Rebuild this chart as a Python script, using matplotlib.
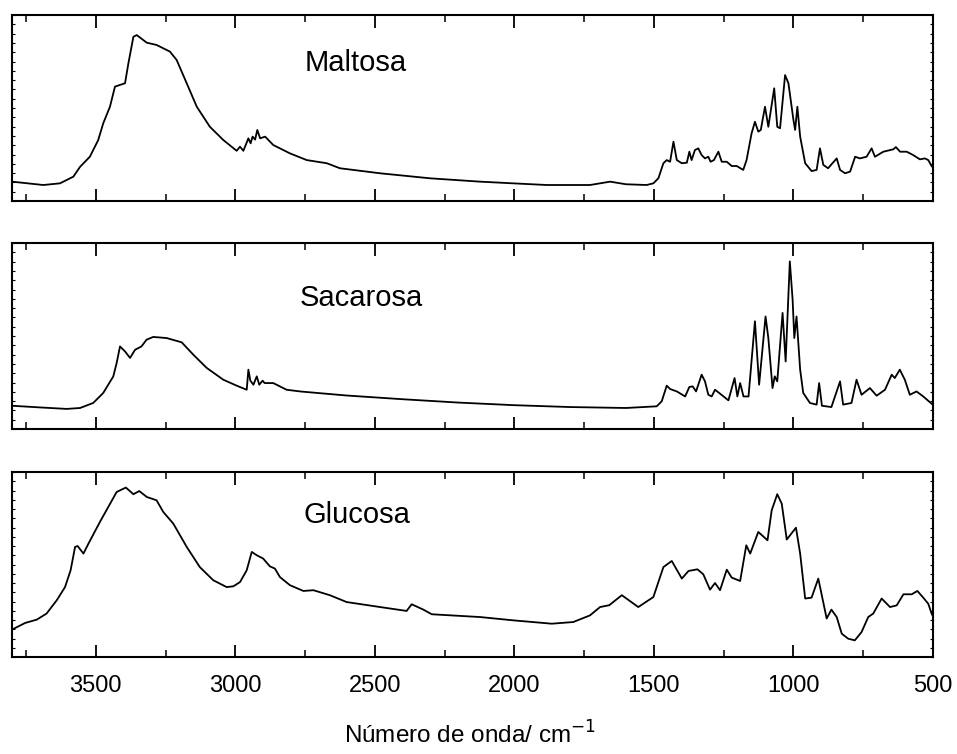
import numpy as np
import matplotlib
matplotlib.use("Agg")
import matplotlib.pyplot as plt
from matplotlib.ticker import MultipleLocator

plt.rcParams['font.family'] = ['Liberation Sans', 'DejaVu Sans']

# FTIR spectra (wavenumber in cm^-1, relative absorbance)
maltosa_wn = [3800, 3688, 3628, 3580, 3556, 3521, 3491, 3473, 3449, 3431, 3395, 3383, 3365, 3353,
              3317, 3282, 3234, 3210, 3174, 3138, 3091, 3043, 2995, 2983, 2971, 2953, 2945, 2938,
              2929, 2921, 2911, 2893, 2864, 2804, 2744, 2672, 2625, 2481, 2302, 2123, 2005, 1884,
              1729, 1657, 1600, 1526, 1502, 1484, 1466, 1454, 1442, 1430, 1418, 1400, 1382, 1373,
              1365, 1353, 1341, 1329, 1317, 1305, 1297, 1285, 1269, 1257, 1239, 1221, 1203, 1180,
              1168, 1150, 1138, 1126, 1117, 1102, 1090, 1069, 1058, 1048, 1030, 1018, 1000, 994,
              986, 976, 958, 935, 917, 905, 893, 876, 845, 833, 815, 797, 779, 762, 738, 720, 708,
              678, 642, 633, 618, 594, 571, 547, 529, 517, 505, 500]
maltosa_abs = [0.104, 0.086, 0.095, 0.131, 0.184, 0.238, 0.328, 0.418, 0.507, 0.615, 0.633, 0.740,
               0.883, 0.892, 0.851, 0.839, 0.803, 0.758, 0.633, 0.507, 0.399, 0.328, 0.270, 0.292,
               0.270, 0.337, 0.310, 0.346, 0.330, 0.382, 0.337, 0.346, 0.301, 0.256, 0.220, 0.203,
               0.176, 0.149, 0.122, 0.104, 0.095, 0.086, 0.086, 0.104, 0.090, 0.086, 0.095, 0.122,
               0.203, 0.220, 0.211, 0.319, 0.220, 0.203, 0.206, 0.265, 0.220, 0.274, 0.283, 0.247,
               0.229, 0.238, 0.211, 0.220, 0.265, 0.211, 0.211, 0.188, 0.188, 0.167, 0.220, 0.364,
               0.426, 0.373, 0.382, 0.507, 0.399, 0.606, 0.399, 0.391, 0.677, 0.633, 0.435, 0.382,
               0.507, 0.346, 0.203, 0.161, 0.167, 0.283, 0.194, 0.176, 0.229, 0.167, 0.149, 0.158,
               0.238, 0.229, 0.238, 0.283, 0.238, 0.265, 0.278, 0.290, 0.265, 0.265, 0.247, 0.224,
               0.229, 0.220, 0.188, 0.180]

sacarosa_wn = [3800, 3700, 3604, 3556, 3509, 3473, 3437, 3425, 3413, 3395, 3377, 3359, 3336, 3318,
               3294, 3246, 3192, 3150, 3102, 3043, 2995, 2959, 2953, 2946, 2935, 2923, 2914, 2902,
               2895, 2864, 2816, 2768, 2708, 2600, 2400, 2200, 2000, 1800, 1600, 1490, 1472, 1454,
               1442, 1418, 1388, 1373, 1361, 1349, 1329, 1317, 1305, 1293, 1281, 1263, 1233, 1211,
               1201, 1191, 1179, 1161, 1138, 1123, 1100, 1090, 1075, 1067, 1058, 1039, 1028, 1013,
               1003, 997, 989, 976, 965, 941, 917, 908, 898, 864, 833, 822, 792, 774, 756, 726,
               702, 672, 648, 637, 619, 601, 583, 559, 535, 505, 500]
sacarosa_abs = [0.125, 0.116, 0.108, 0.113, 0.140, 0.194, 0.283, 0.355, 0.444, 0.417, 0.382, 0.426,
                0.444, 0.480, 0.495, 0.489, 0.466, 0.399, 0.328, 0.265, 0.233, 0.211, 0.319, 0.260,
                0.238, 0.283, 0.238, 0.260, 0.247, 0.247, 0.211, 0.202, 0.194, 0.180, 0.160, 0.142,
                0.128, 0.118, 0.113, 0.122, 0.149, 0.233, 0.215, 0.202, 0.175, 0.226, 0.229, 0.202,
                0.292, 0.256, 0.184, 0.175, 0.211, 0.190, 0.154, 0.274, 0.175, 0.247, 0.175, 0.175,
                0.579, 0.238, 0.605, 0.489, 0.220, 0.283, 0.256, 0.624, 0.363, 0.901, 0.695, 0.489,
                0.605, 0.319, 0.194, 0.140, 0.131, 0.247, 0.125, 0.118, 0.256, 0.131, 0.140, 0.265,
                0.184, 0.220, 0.179, 0.211, 0.292, 0.274, 0.319, 0.265, 0.184, 0.202, 0.175, 0.136,
                0.130]

glucosa_wn = [3800, 3753, 3711, 3676, 3640, 3610, 3590, 3574, 3565, 3544, 3526, 3485, 3455, 3425,
              3392, 3365, 3344, 3317, 3282, 3258, 3222, 3174, 3127, 3079, 3031, 3007, 2983, 2959,
              2941, 2923, 2900, 2876, 2858, 2840, 2804, 2756, 2720, 2661, 2601, 2481, 2386, 2368,
              2326, 2296, 2123, 2003, 1866, 1789, 1729, 1693, 1660, 1615, 1556, 1502, 1466, 1436,
              1400, 1376, 1344, 1323, 1299, 1281, 1263, 1239, 1221, 1191, 1169, 1155, 1126, 1093,
              1078, 1058, 1042, 1024, 991, 976, 958, 935, 911, 881, 864, 845, 827, 804, 780, 756,
              732, 714, 684, 654, 630, 606, 576, 556, 535, 517, 505, 500]
glucosa_abs = [0.148, 0.184, 0.202, 0.235, 0.306, 0.378, 0.469, 0.595, 0.600, 0.559, 0.613, 0.730,
               0.811, 0.892, 0.916, 0.880, 0.897, 0.865, 0.847, 0.784, 0.721, 0.595, 0.486, 0.415,
               0.378, 0.382, 0.405, 0.469, 0.568, 0.550, 0.532, 0.490, 0.478, 0.432, 0.388, 0.357,
               0.361, 0.334, 0.297, 0.270, 0.249, 0.285, 0.256, 0.231, 0.216, 0.198, 0.180, 0.189,
               0.225, 0.270, 0.280, 0.334, 0.270, 0.324, 0.486, 0.519, 0.424, 0.465, 0.474, 0.447,
               0.364, 0.400, 0.361, 0.472, 0.429, 0.411, 0.604, 0.559, 0.676, 0.631, 0.793, 0.880,
               0.829, 0.635, 0.699, 0.559, 0.316, 0.321, 0.424, 0.208, 0.256, 0.216, 0.126, 0.099,
               0.090, 0.135, 0.216, 0.235, 0.316, 0.270, 0.279, 0.339, 0.339, 0.357, 0.321, 0.288,
               0.235, 0.220]

names = ["Maltosa", "Sacarosa", "Glucosa"]
series = [(maltosa_wn, maltosa_abs), (sacarosa_wn, sacarosa_abs), (glucosa_wn, glucosa_abs)]
label_pos = [(2750, 0.742), (2768, 0.706), (2754, 0.766)]

x_ticks = [3500, 3000, 2500, 2000, 1500, 1000, 500]

fig = plt.figure(figsize=(9.57, 7.54), dpi=100)
W, H = 957, 754
left, right = 12, 933
panels = [(15, 201), (243, 429), (472, 657)]

for i, ((top, bot), name, (wn, ab), (lx, ly)) in enumerate(zip(panels, names, series, label_pos)):
    ax = fig.add_axes([left / W, (H - bot) / H, (right - left) / W, (bot - top) / H])
    ax.plot(wn, ab, color="black", lw=1.3, solid_joinstyle="round")
    ax.set_xlim(3800, 500)
    ax.set_ylim(0, 1)
    ax.text(lx, ly, name, fontsize=21, va="center", ha="left")
    ax.set_xticks(x_ticks)
    ax.xaxis.set_minor_locator(MultipleLocator(250))
    ax.yaxis.set_minor_locator(MultipleLocator(0.05))
    ax.set_yticks([])
    ax.tick_params(axis="x", which="major", direction="in", length=9, width=1.3,
                   top=True, bottom=True, labelsize=17, pad=13)
    ax.tick_params(axis="x", which="minor", direction="in", length=5, width=1.1,
                   top=True, bottom=True)
    ax.tick_params(axis="y", which="minor", direction="in", length=2.5, width=0.8,
                   left=True, right=True)
    for s in ax.spines.values():
        s.set_linewidth(1.5)
    if i < 2:
        ax.tick_params(axis="x", labelbottom=False)

fig.text(470 / W, (H - 735) / H, "Número de onda/ cm$^{-1}$", fontsize=17.5,
         ha="center", va="center")

fig.savefig("out.png", dpi=100)
